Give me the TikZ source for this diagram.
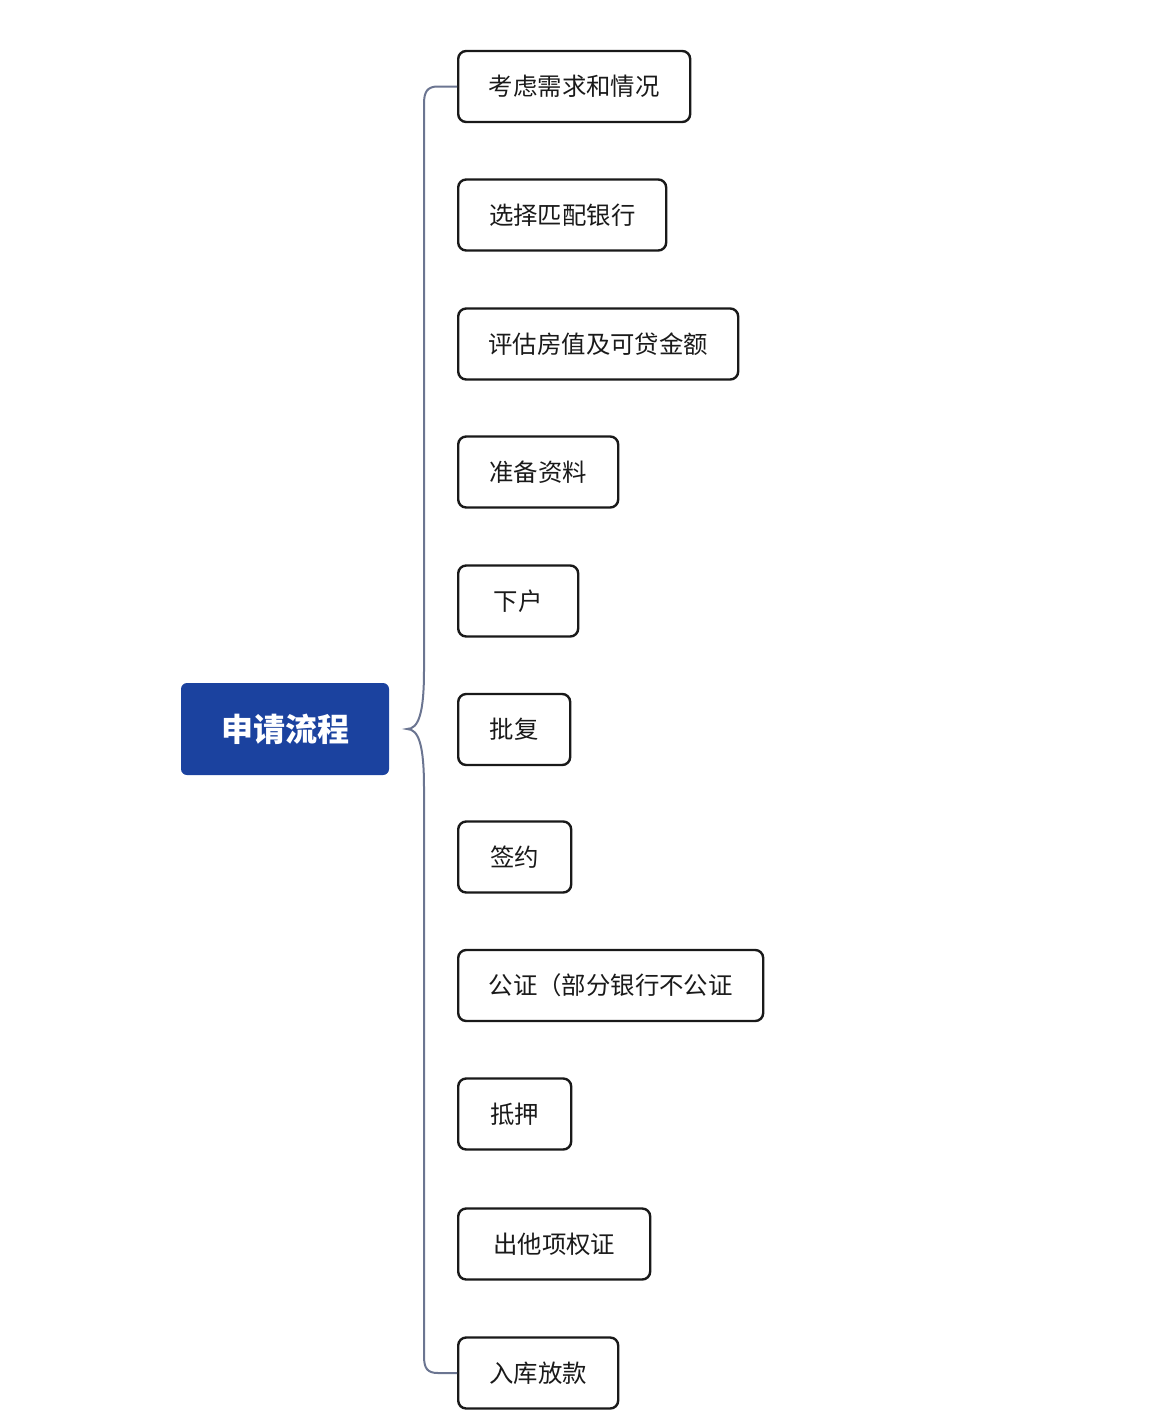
\documentclass[tikz,border=0pt]{standalone}
\usepackage{fontspec}
\setmainfont{Noto Sans CJK SC}
\definecolor{rootblue}{HTML}{1B429F}
\definecolor{bracecol}{HTML}{6B7591}
\definecolor{txt}{HTML}{1A1A1A}
\tikzset{
  stepbox/.style={draw=black!90, line width=2.4pt, rounded corners=8pt, minimum height=71pt, inner sep=0pt, anchor=west, align=center, text=txt, font=\fontsize{24.4}{28}\selectfont},
  rootbox/.style={fill=rootblue, rounded corners=6pt, minimum width=208pt, minimum height=92pt, inner sep=0pt, text=white, font=\fontsize{32}{36}\selectfont\bfseries},
  bracel/.style={draw=bracecol, line width=2pt}
}
\begin{document}
\begin{tikzpicture}[x=1pt,y=-1pt]
\useasboundingbox (0,0) rectangle (1154,1413);
\node[rootbox] (root) at (285,729) {申请流程};
\node[stepbox, minimum width=232pt] (b1) at (457,86.5) {考虑需求和情况};
\node[stepbox, minimum width=208pt] (b2) at (457,215) {选择匹配银行};
\node[stepbox, minimum width=280pt] (b3) at (457,344) {评估房值及可贷金额};
\node[stepbox, minimum width=160pt] (b4) at (457,472) {准备资料};
\node[stepbox, minimum width=120pt] (b5) at (457,601) {下户};
\node[stepbox, minimum width=112pt] (b6) at (457,729.5) {批复};
\node[stepbox, minimum width=113pt] (b7) at (457,857) {签约};
\node[stepbox, minimum width=305pt] (b8) at (457,985.5) {公证（部分银行不公证};
\node[stepbox, minimum width=113pt] (b9) at (457,1114) {抵押};
\node[stepbox, minimum width=192pt] (b10) at (457,1244) {出他项权证};
\node[stepbox, minimum width=160pt] (b11) at (457,1373) {入库放款};
\coordinate (tip) at (407,729);
\draw[bracel] (b1.west) -- (438,86.5) .. controls (427,86.5) and (424,92) .. (424,104)
  -- (424,670) .. controls (424,712) and (419,729) .. (tip)
  .. controls (419,729) and (424,746) .. (424,788)
  -- (424,1356) .. controls (424,1368) and (427,1373) .. (438,1373) -- (b11.west);
\end{tikzpicture}
\end{document}
